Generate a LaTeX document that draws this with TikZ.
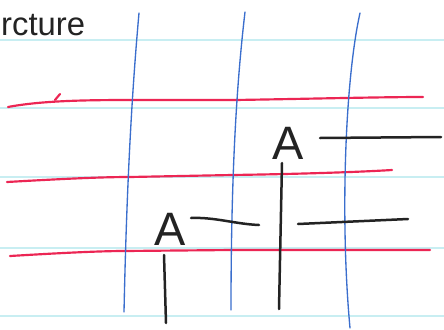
\documentclass[tikz,border=0pt]{standalone}
\usepackage{fontspec}
\setmainfont{Liberation Sans}

\definecolor{rule}{RGB}{200,238,242}
\definecolor{redpen}{RGB}{236,38,84}
\definecolor{bluepen}{RGB}{58,110,205}
\definecolor{blackpen}{RGB}{35,35,35}

\tikzset{
  ruled/.style={rule, line width=0.035cm},
  redline/.style={redpen, line width=0.065cm, line cap=round},
  blueline/.style={bluepen, line width=0.04cm, line cap=round},
  inkline/.style={blackpen, line width=0.075cm, line cap=round},
  letter/.style={blackpen, inner sep=0pt, font=\fontsize{40}{40}\selectfont}
}

\begin{document}
\begin{tikzpicture}[x=0.03cm, y=-0.03cm]
  \useasboundingbox (0,0) rectangle (444,329);
  \fill[white] (0,0) rectangle (444,329);

  % paper rules
  \foreach \y in {40, 108, 177, 248, 316}
    \draw[ruled] (0,\y) -- (444,\y);

  \node[blackpen, anchor=west, inner sep=0pt, font=\fontsize{28}{28}\selectfont] (title) at (1,25) {rcture};

  % red lines
  \draw[redline] (8,107) .. controls (40,101) and (80,100) .. (130,100)
    -- (235,100) .. controls (300,99) and (380,97) .. (423,97);
  \draw[redline] (55,100) -- (60,94);
  \draw[redline] (7,182) .. controls (60,179) and (100,177) .. (130,177)
    -- (232,175) .. controls (300,174) and (360,172) .. (392,170);
  \draw[redline] (10,256) .. controls (60,253) and (100,251) .. (125,251)
    -- (232,250) -- (345,250) -- (430,250);

  % blue lines
  \draw[blueline] (139,13) .. controls (133,80) and (127,170) .. (124,312);
  \draw[blueline] (245,12) .. controls (237,80) and (231,170) .. (231,310);
  \draw[blueline] (360,13) .. controls (345,80) and (340,220) .. (350,328);

  % letters
  \node[letter] (a1) at (170,229) {A};
  \node[letter] (a2) at (288,143) {A};

  % black strokes
  \draw[inkline] (191,218) .. controls (215,217) and (235,224) .. (259,225);
  \draw[inkline] (320,138) -- (441,137);
  \draw[inkline] (298,224) -- (408,219);
  \draw[inkline] (164,255) -- (166,323);
  \draw[inkline] (282,163) -- (279,309);
\end{tikzpicture}
\end{document}
